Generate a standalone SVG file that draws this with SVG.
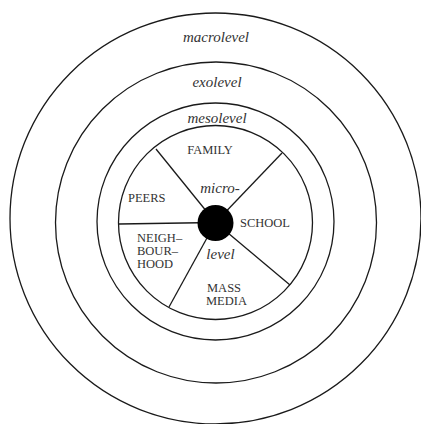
<svg xmlns="http://www.w3.org/2000/svg" width="421" height="424" viewBox="0 0 421 424">
<style>
.ring{fill:none;stroke:#1a1a1a;stroke-width:1.3}
.spoke{stroke:#1a1a1a;stroke-width:1.3}
.lvl{font-family:"Liberation Serif",serif;font-style:italic;font-size:15px;fill:#333;text-anchor:middle}
.cap{font-family:"Liberation Serif",serif;font-size:12.5px;fill:#333}
</style>
<rect width="421" height="424" fill="#fff"/>
<g id="macrolevel">
<circle class="ring" cx="215.5" cy="218.5" r="205.5"/>
<text class="lvl" x="216" y="42">macrolevel</text>
</g>
<g id="exolevel">
<circle class="ring" cx="216" cy="222.5" r="160.5"/>
<text class="lvl" x="217" y="87">exolevel</text>
</g>
<g id="mesolevel">
<circle class="ring" cx="215.5" cy="221.5" r="118.5"/>
<text class="lvl" x="217" y="123">mesolevel</text>
</g>
<g id="microlevel">
<circle class="ring" cx="215.5" cy="222.5" r="97"/>
</g>
<g id="connectors">
<line class="spoke" x1="215.5" y1="222.5" x2="156" y2="149"/>
<line class="spoke" x1="215.5" y1="222.5" x2="282" y2="153"/>
<line class="spoke" x1="215.5" y1="222.5" x2="290" y2="285"/>
<line class="spoke" x1="215.5" y1="222.5" x2="169" y2="307"/>
<line class="spoke" x1="215.5" y1="222.5" x2="119" y2="224"/>
</g>
<g id="center">
<circle cx="215.5" cy="223" r="18" fill="#000"/>
<text class="lvl" x="220" y="193">micro-</text>
<text class="lvl" x="220.5" y="259">level</text>
</g>
<g id="family"><text class="cap" x="210" y="154" text-anchor="middle">FAMILY</text></g>
<g id="peers"><text class="cap" x="128" y="202">PEERS</text></g>
<g id="school"><text class="cap" x="240" y="227">SCHOOL</text></g>
<g id="neighbourhood"><text class="cap" x="137" y="242">NEIGH–</text><text class="cap" x="137" y="255">BOUR–</text><text class="cap" x="137" y="268">HOOD</text></g>
<g id="massmedia"><text class="cap" x="207" y="292">MASS</text><text class="cap" x="206" y="305">MEDIA</text></g>
</svg>
